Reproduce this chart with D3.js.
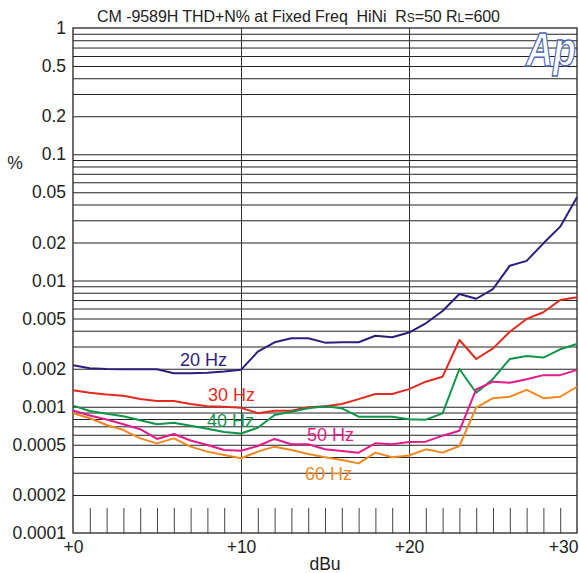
<!DOCTYPE html>
<html lang="en">
  <head>
    <meta charset="UTF-8" />
    <title>CM -9589H THD+N% at Fixed Freq</title>
  </head>
  <style>
    body {
      margin: 0;
      background: #fff;
    }
    svg text {
      font-family: 'Liberation Sans', Arial, Helvetica, sans-serif;
    }
  </style>
  <body>
    <svg id="svg" width="579" height="573"></svg>

    <script src="https://d3js.org/d3.v7.min.js"></script>
    <script>
      // output level in dBu, one reading per dB
      const levels = [0, 1, 2, 3, 4, 5, 6, 7, 8, 9, 10, 11, 12, 13, 14, 15, 16, 17, 18, 19, 20,
        21, 22, 23, 24, 25, 26, 27, 28, 29, 30];

      // THD+N in %
      const hz20 = [0.00213, 0.00202, 0.00199, 0.00198, 0.00198, 0.00198, 0.00184, 0.00184, 0.00186, 0.0019,
        0.00196, 0.00273, 0.00324, 0.00349, 0.00349, 0.00322, 0.00324, 0.00324, 0.00365, 0.00355,
        0.00387, 0.00458, 0.00573, 0.00782, 0.00717, 0.00856, 0.0131, 0.0143, 0.0197, 0.0267, 0.0456];
      const hz30 = [0.00135, 0.00129, 0.00125, 0.00122, 0.00115, 0.00111, 0.00111, 0.00105, 0.00101, 0.001,
        0.00098, 0.00089, 0.00093, 0.00093, 0.00099, 0.00101, 0.00105, 0.00115, 0.00126, 0.00126,
        0.00138, 0.00158, 0.00173, 0.00338, 0.00239, 0.0029, 0.00393, 0.00496, 0.0056, 0.00701, 0.00736];
      const hz40 = [0.00102, 0.000925, 0.000881, 0.00084, 0.000781, 0.000727, 0.000747, 0.000706, 0.00067, 0.000631,
        0.000614, 0.000682, 0.00086, 0.000914, 0.000972, 0.00101, 0.000972, 0.000834, 0.000834, 0.000834,
        0.000797, 0.00079, 0.000887, 0.00199, 0.00129, 0.00166, 0.00239, 0.00252, 0.00245, 0.00285, 0.00314];
      const hz50 = [0.000934, 0.000853, 0.000793, 0.000727, 0.000664, 0.000556, 0.000608, 0.00054, 0.000498, 0.000454,
        0.000448, 0.000489, 0.000556, 0.000504, 0.000504, 0.00046, 0.000446, 0.000433, 0.000513, 0.000504,
        0.000526, 0.000529, 0.00059, 0.000646, 0.00137, 0.00158, 0.00155, 0.00165, 0.00178, 0.00178, 0.00196];
      const hz60 = [0.000887, 0.00081, 0.000717, 0.000654, 0.000562, 0.000513, 0.000562, 0.000483, 0.000441, 0.000415,
        0.000391, 0.000441, 0.000483, 0.000454, 0.000422, 0.000398, 0.000379, 0.000356, 0.000433, 0.000398,
        0.000411, 0.00046, 0.000433, 0.000489, 0.000983, 0.00117, 0.0012, 0.00136, 0.00117, 0.0012, 0.00144];

      const seriesNames = ['20 Hz', '30 Hz', '40 Hz', '50 Hz', '60 Hz'];
      const seriesValues = [hz20, hz30, hz40, hz50, hz60];
      const seriesColors = ['#2d1e7e', '#e42a1e', '#109447', '#e4198a', '#f0881f'];
      // where each name sits, in data units (dBu, %)
      const labelAt = [[6.37, 0.0021], [8.04, 0.00111], [7.98, 0.000691], [13.93, 0.000535], [13.81, 0.000263]];

      const yLabels = [1, 0.5, 0.2, 0.1, 0.05, 0.02, 0.01, 0.005, 0.002, 0.001, 0.0005, 0.0002, 0.0001];
      const xLabels = [0, 10, 20, 30];

      const plotL = 73, plotT = 28, plotR = 577, plotB = 533;
      const svg = d3.select('#svg');

      const x = d3.scaleLinear().domain([0, 30]).range([plotL, plotR]);
      const y = d3.scaleLog().domain([0.0001, 1]).range([plotB, plotT]);

      // horizontal log grid
      svg.append('g')
        .attr('transform', `translate(${plotL},0)`)
        .call(d3.axisLeft(y)
          .tickValues(y.ticks().filter((d) => d > 0.0001 && d < 1))
          .tickSize(-(plotR - plotL))
          .tickFormat(''))
        .call((g) => g.select('.domain').remove())
        .selectAll('line')
        .attr('stroke', '#222')
        .attr('stroke-width', 1);

      // vertical grid at +10 and +20
      svg.append('g')
        .attr('transform', `translate(0,${plotB})`)
        .call(d3.axisBottom(x).tickValues([10, 20]).tickSize(-(plotB - plotT)).tickFormat(''))
        .call((g) => g.select('.domain').remove())
        .selectAll('line')
        .attr('stroke', '#333');

      // short 1 dB ticks along the bottom
      svg.append('g')
        .attr('transform', `translate(0,${plotB})`)
        .call(d3.axisTop(x)
          .tickValues(levels.filter((d) => d % 10 !== 0))
          .tickSize(25)
          .tickFormat(''))
        .call((g) => g.select('.domain').remove())
        .selectAll('line')
        .attr('stroke', '#444');

      // frame
      svg.append('rect')
        .attr('x', plotL)
        .attr('y', plotT)
        .attr('width', plotR - plotL)
        .attr('height', plotB - plotT)
        .attr('fill', 'none')
        .attr('stroke', '#222')
        .attr('stroke-width', 1.3);

      // Ap logo
      svg.append('text')
        .attr('transform', 'translate(526,66) scale(0.78,1)')
        .attr('font-size', 48)
        .attr('font-style', 'italic')
        .attr('font-weight', 'bold')
        .attr('fill', '#fff')
        .attr('stroke', '#4a66b0')
        .attr('stroke-width', 1.4)
        .text('Ap');

      // y labels
      svg.append('g')
        .attr('transform', `translate(${plotL - 4},0)`)
        .call(d3.axisLeft(y).tickValues(yLabels).tickSize(0).tickFormat((d) => String(d)))
        .call((g) => g.select('.domain').remove())
        .selectAll('text')
        .attr('font-size', 17.5)
        .attr('fill', '#222')
        .style('font-family', "'Liberation Sans', Arial, sans-serif");

      // x labels
      svg.append('g')
        .attr('transform', `translate(0,${plotB + 5})`)
        .call(d3.axisBottom(x).tickValues(xLabels).tickSize(0).tickFormat((d) => '+' + d))
        .call((g) => g.select('.domain').remove())
        .selectAll('text')
        .attr('font-size', 17.5)
        .attr('fill', '#222')
        .style('font-family', "'Liberation Sans', Arial, sans-serif")
        .attr('text-anchor', (d) => (d === 30 ? 'end' : 'middle'))
        .attr('dx', (d) => (d === 30 ? 1 : 0));

      svg.append('text')
        .attr('x', x(15))
        .attr('y', 570)
        .attr('text-anchor', 'middle')
        .attr('font-size', 17.5)
        .attr('fill', '#222')
        .text('dBu');

      svg.append('text')
        .attr('x', 15)
        .attr('y', 169)
        .attr('text-anchor', 'middle')
        .attr('font-size', 17.5)
        .attr('fill', '#222')
        .text('%');

      // title
      const title = svg.append('text')
        .attr('x', 97)
        .attr('y', 22)
        .attr('font-size', 16)
        .attr('fill', '#222')
        .attr('textLength', 403)
        .attr('lengthAdjust', 'spacing');
      title.append('tspan').text('CM -9589H THD+N% at Fixed Freq\u00a0\u00a0HiNi\u00a0\u00a0R');
      title.append('tspan').attr('font-size', 12).text('S');
      title.append('tspan').text('=50 R');
      title.append('tspan').attr('font-size', 12).text('L');
      title.append('tspan').text('=600');

      // curves
      const line = d3.line()
        .x((d, i) => x(levels[i]))
        .y((d) => y(d));

      svg.append('g')
        .selectAll('path')
        .data(seriesValues)
        .enter()
        .append('path')
        .attr('d', (d) => line(d))
        .attr('fill', 'none')
        .attr('stroke', (d, i) => seriesColors[i])
        .attr('stroke-width', 2)
        .attr('stroke-linejoin', 'round');

      svg.append('g')
        .selectAll('text')
        .data(seriesNames)
        .enter()
        .append('text')
        .attr('x', (d, i) => x(labelAt[i][0]))
        .attr('y', (d, i) => y(labelAt[i][1]))
        .attr('font-size', 18)
        .attr('fill', (d, i) => seriesColors[i])
        .text((d) => d);
    </script>
  </body>
</html>
